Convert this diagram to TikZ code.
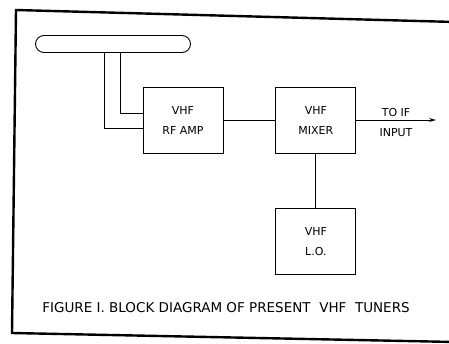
\documentclass[tikz,border=0pt]{standalone}
\usepackage{fontspec}
\setmainfont{DejaVu Sans}
\usetikzlibrary{positioning,shapes.misc,arrows.meta}
\begin{document}
\begin{tikzpicture}[
    x=1pt, y=-1pt, % 与原图像素一一对应
    line width=0.9pt,
    node distance=52pt,
    block/.style={
        draw,
        minimum width=80pt,
        minimum height=66pt,
        inner sep=0pt,
        align=center,
        font=\fontsize{11}{20}\selectfont
    },
    lbl/.style={align=center, inner sep=0pt, font=\fontsize{11}{20}\selectfont},
    frame/.style={line width=2.4pt, line join=miter}
]
  \useasboundingbox (0,0) rectangle (449,343);
  % 外框
  \draw[frame] (455,22) -- (16,10) -- (12,333) -- (455,342);
  % 方框
  \node[block] (rf) at (183,120) {VHF\\RF AMP};
  \node[block, right=52pt of rf] (mix) {VHF\\MIXER};
  \node[block, below=55pt of mix] (lo) {VHF\\L.O.};
  % 天线
  \node[draw, rounded rectangle, minimum width=155pt, minimum height=17pt, inner sep=0pt] (ant) at (113,44) {};
  \coordinate (sl) at (104,0);
  \coordinate (sr) at (120,0);
  \draw (ant.south -| sl) |- ([yshift=-8pt]rf.west);
  \draw (ant.south -| sr) |- ([yshift=7pt]rf.west);
  % 连线
  \draw (rf) -- (mix);
  \draw (mix) -- (lo);
  \coordinate (out) at (436,0);
  \draw[-{Stealth[length=7pt, width=4pt]}] (mix.east) -- (mix.east -| out);
  \node[lbl] (iftxt) at (396,122) {TO IF\\INPUT};
  % 图题
  \node[lbl, font=\fontsize{13.5}{15}\selectfont] (cap) at (226,308)
    {FIGURE I. BLOCK DIAGRAM OF PRESENT\ \ VHF\ \ TUNERS};
\end{tikzpicture}
\end{document}
